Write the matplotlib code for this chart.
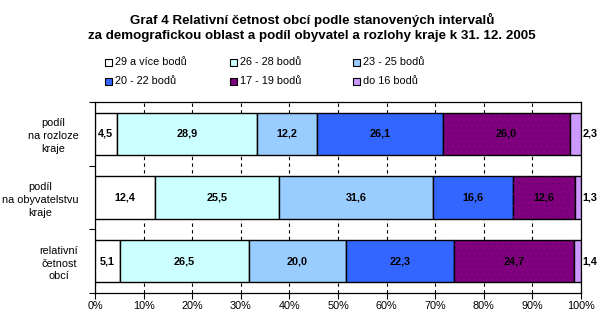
import matplotlib
matplotlib.use("Agg")
import matplotlib.pyplot as plt
from matplotlib.patches import Rectangle
import numpy as np

plt.rcParams['font.family'] = ['Liberation Sans', 'DejaVu Sans']
plt.rcParams['hatch.linewidth'] = 0.6

title_lines = ["Graf 4 Relativní četnost obcí podle stanovených intervalů",
               "za demografickou oblast a podíl obyvatel a rozlohy kraje k 31. 12. 2005"]
categories = ["podíl\nna rozloze\nkraje", "podíl\nna obyvatelstvu\nkraje", "relativní\nčetnost\nobcí"]
series_names = ["29 a více bodů", "26 - 28 bodů", "23 - 25 bodů",
                "20 - 22 bodů", "17 - 19 bodů", "do 16 bodů"]
values = [
    [4.5, 12.4, 5.1],
    [28.9, 25.5, 26.5],
    [12.2, 31.6, 20.0],
    [26.1, 16.6, 22.3],
    [26.0, 12.6, 24.7],
    [2.3, 1.3, 1.4],
]
colors = ["#FFFFFF", "#CCFFFF", "#99CCFF", "#3366FF", "#800080", "#CC99FF"]
xticks = [0, 10, 20, 30, 40, 50, 60, 70, 80, 90, 100]
xticklabels = [f"{t}%" for t in xticks]

W, H = 608, 321
fig = plt.figure(figsize=(W / 100, H / 100), dpi=100)
ax = fig.add_axes([95 / W, 28 / H, 486 / W, 191 / H])

fs = 7.8
ypos = np.arange(len(categories))
left = np.zeros(len(categories))
for i, (name, vals, c) in enumerate(zip(series_names, values, colors)):
    vals = np.array(vals)
    ax.barh(ypos, vals, left=left, height=0.66, color=c, edgecolor='black',
            linewidth=1.0, zorder=3)
    if i == 4:
        ax.barh(ypos, vals, left=left, height=0.66, fill=False,
                edgecolor='#6c006c', linewidth=0, hatch='...', zorder=3)
    for y, v, l in zip(ypos, vals, left):
        label = f"{v:.1f}".replace('.', ',')
        if i == len(series_names) - 1:
            ax.text(101.8, y, label, ha='center', va='center', fontsize=fs,
                    fontweight='bold', zorder=5, clip_on=False)
        else:
            ax.text(l + v / 2, y, label, ha='center', va='center', fontsize=fs,
                    fontweight='bold', zorder=5)
    left = left + vals

ax.set_xlim(0, 100)
ax.set_ylim(len(categories) - 0.5, -0.5)
ax.set_xticks(xticks)
ax.set_xticklabels(xticklabels, fontsize=fs)
ax.tick_params(axis='x', direction='out', length=4, width=0.8, pad=2)
ax.set_yticks(ypos)
ax.set_yticklabels(categories, fontsize=fs, linespacing=1.35,
                   multialignment='center')
ax.tick_params(axis='y', which='major', length=0, pad=12)
ax.set_yticks(np.arange(-0.5, len(categories)), minor=True)
ax.tick_params(axis='y', which='minor', direction='out', length=4, width=0.8)
ax.xaxis.grid(True, linestyle=(0, (3, 3)), color='black', linewidth=0.8, zorder=0)
for s in ax.spines.values():
    s.set_linewidth(0.9)
    s.set_color('black')

# title
fig.text(312 / W, 1 - 19.5 / H, title_lines[0], ha='center', va='center',
         fontsize=9.6, fontweight='bold')
fig.text(312 / W, 1 - 36 / H, title_lines[1], ha='center', va='center',
         fontsize=9.6, fontweight='bold')

# legend (row-major, 3 columns)
col_x = [105, 230, 353]
row_y = [62, 81]
for k, (name, c) in enumerate(zip(series_names, colors)):
    r, cc = divmod(k, 3)
    x0, y0 = col_x[cc], row_y[r]
    fig.patches.append(Rectangle(((x0) / W, 1 - (y0 + 3.5) / H), 7 / W, 7 / H,
                                 transform=fig.transFigure, facecolor=c,
                                 edgecolor='black', linewidth=0.8))
    fig.text((x0 + 10) / W, 1 - y0 / H, name, ha='left', va='center', fontsize=fs)

fig.savefig("out.png", dpi=100)
